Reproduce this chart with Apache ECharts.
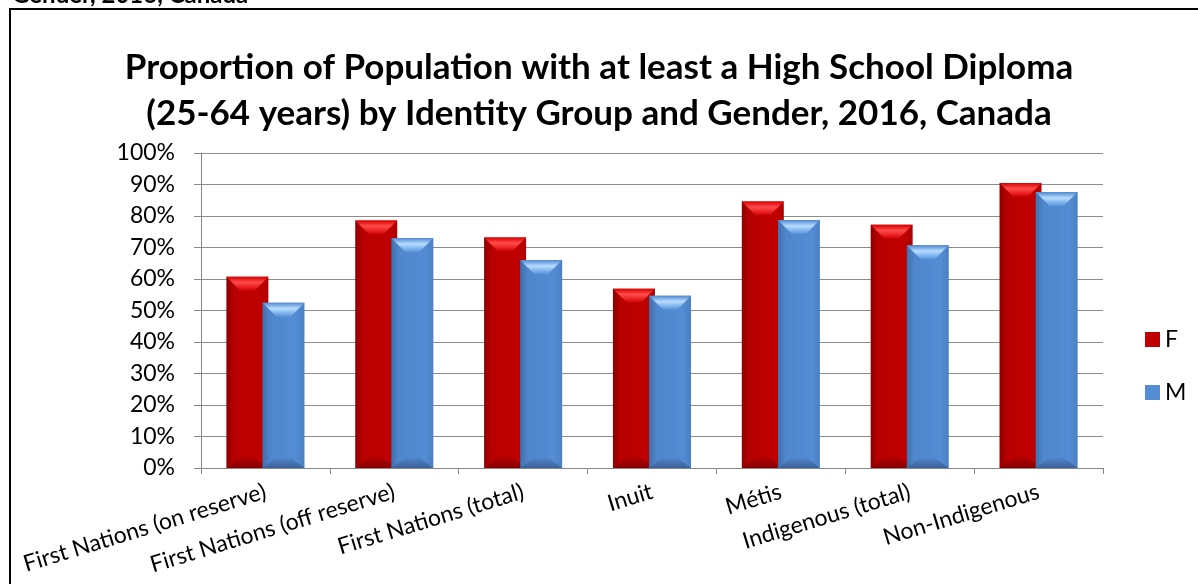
<!DOCTYPE html>
<html>
<head>
<meta charset="utf-8">
<script src="https://cdn.jsdelivr.net/npm/echarts@6/dist/echarts.min.js"></script>
<style>
html,body{margin:0;padding:0;background:#fff;}
#c{width:1198px;height:584px;}
</style>
</head>
<body>
<div id="c"></div>
<script>
var categories = ['First Nations (on reserve)', 'First Nations (off reserve)', 'First Nations (total)', 'Inuit', 'Métis', 'Indigenous (total)', 'Non-Indigenous'];
var seriesNames = ['F', 'M'];
var valuesF = [60.7, 78.6, 73.2, 56.9, 84.6, 77.2, 90.5];
var valuesM = [52.5, 73.0, 66.0, 54.7, 78.7, 70.7, 87.6];
var yTicks = [0, 10, 20, 30, 40, 50, 60, 70, 80, 90, 100];
var titleText = 'Proportion of Population with at least a High School Diploma\n(25-64 years) by Identity Group and Gender, 2016, Canada';
var headerText = 'Gender, 2016, Canada';

var FONT = 'Lato';
var CAT_GAP = 0.394;   // share of category band left empty
var BAR_GAP = -0.14;   // overlap between F and M bars
var BEVEL = 14;

var palettes = [
  { // F
    body: [['#8c0000', 0], ['#b80000', 0.18], ['#c00000', 0.8], ['#b00000', 1]],
    top: [['#d80000', 0], ['#ff4b4b', 0.4], ['#e82020', 0.75], ['#c80000', 1]],
    bottom: [['#b00000', 0], ['#8a0000', 1]],
    legend: '#c00000'
  },
  { // M
    body: [['#3f70ad', 0], ['#4f86cc', 0.18], ['#548dd4', 0.8], ['#4a80c4', 1]],
    top: [['#4f88d0', 0], ['#b8dcff', 0.42], ['#7fb3ee', 0.75], ['#5a93d8', 1]],
    bottom: [['#4f86cc', 0], ['#3a6299', 1]],
    legend: '#548dd4'
  }
];

function stops(arr) { return arr.map(function (s) { return {offset: s[1], color: s[0]}; }); }

function makeRender(seriesIdx) {
  var pal = palettes[seriesIdx];
  return function (params, api) {
    var ci = api.value(0);
    var val = api.value(1);
    var topPt = api.coord([ci, val]);
    var basePt = api.coord([ci, 0]);
    var band = api.size([1, 0])[0];
    var barW = band * (1 - CAT_GAP) / (2 + BAR_GAP);
    var total = barW * (2 + BAR_GAP);
    var x = topPt[0] - total / 2 + seriesIdx * barW * (1 + BAR_GAP);
    var y = topPt[1];
    var h = basePt[1] - topPt[1];
    var k = Math.min(BEVEL, h / 2);
    return {
      type: 'group',
      children: [
        {type: 'rect', shape: {x: x, y: y, width: barW, height: h},
         style: {fill: new echarts.graphic.LinearGradient(0, 0, 1, 0, stops(pal.body))}},
        {type: 'polygon', shape: {points: [[x, y], [x + barW, y], [x + barW - k, y + k], [x + k, y + k]]},
         style: {fill: new echarts.graphic.LinearGradient(0, 0, 0, 1, stops(pal.top))}},
        {type: 'polygon', shape: {points: [[x + k, y + h - k * 0.75], [x + barW - k, y + h - k * 0.75], [x + barW, y + h], [x, y + h]]},
         style: {fill: new echarts.graphic.LinearGradient(0, 0, 0, 1, stops(pal.bottom))}}
      ]
    };
  };
}

function toData(vals) { return vals.map(function (v, i) { return [i, v]; }); }

var chart = echarts.init(document.getElementById('c'));
chart.setOption({
  backgroundColor: '#fff',
  animation: false,
  textStyle: {fontFamily: FONT, color: '#000'},
  title: {
    text: titleText,
    left: 'center',
    top: 40,
    textStyle: {fontFamily: FONT, fontWeight: 'bold', fontSize: 35, lineHeight: 46, color: '#000'}
  },
  graphic: [
    {type: 'rect', shape: {x: 10, y: 9, width: 1200, height: 600}, style: {fill: 'none', stroke: '#000', lineWidth: 2}, silent: true, z: 100},
    {type: 'text', style: {x: 12, y: 7, text: headerText, font: 'bold 24px ' + FONT, fill: '#000', verticalAlign: 'bottom'}, silent: true}
  ],
  legend: {
    orient: 'vertical',
    left: 1140,
    top: 323,
    itemWidth: 15,
    itemHeight: 15,
    itemGap: 30,
    icon: 'rect',
    textStyle: {fontFamily: FONT, fontSize: 23, color: '#000'},
    data: seriesNames
  },
  grid: {left: 201, right: 95, top: 153, bottom: 116, containLabel: false},
  xAxis: {
    type: 'category',
    data: categories,
    axisLine: {lineStyle: {color: '#868686', width: 1}},
    axisTick: {show: true, alignWithLabel: false, length: 6, lineStyle: {color: '#868686'}},
    axisLabel: {rotate: 17, interval: 0, fontSize: 23, color: '#000', margin: 23, fontFamily: FONT}
  },
  yAxis: {
    type: 'value',
    min: 0, max: 100, interval: 10,
    axisLine: {show: true, lineStyle: {color: '#868686', width: 1}},
    axisTick: {show: true, length: 7, lineStyle: {color: '#868686'}},
    splitLine: {lineStyle: {color: '#8c8c8c', width: 1}},
    axisLabel: {formatter: function (v) { return yTicks.indexOf(v) >= 0 ? v + '%' : ''; }, fontSize: 23, color: '#000', margin: 26, fontFamily: FONT}
  },
  series: [
    {name: seriesNames[0], type: 'custom', data: toData(valuesF), renderItem: makeRender(0),
     encode: {x: 0, y: 1}, itemStyle: {color: palettes[0].legend}, z: 2},
    {name: seriesNames[1], type: 'custom', data: toData(valuesM), renderItem: makeRender(1),
     encode: {x: 0, y: 1}, itemStyle: {color: palettes[1].legend}, z: 3}
  ]
});
</script>
</body>
</html>
